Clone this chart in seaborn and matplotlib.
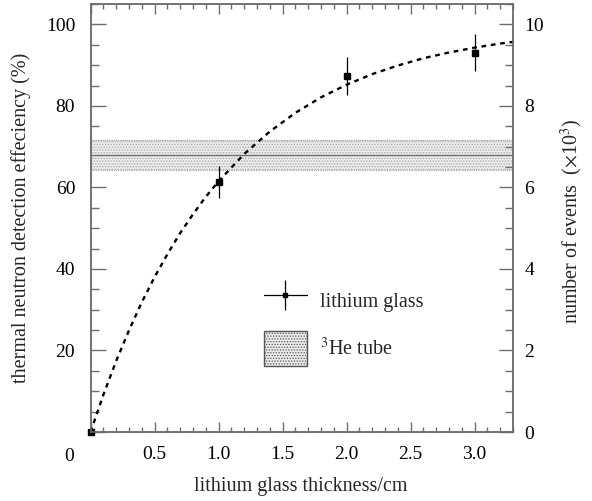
import numpy as np
import pandas as pd
import matplotlib
matplotlib.use("Agg")
import matplotlib.pyplot as plt
import seaborn as sns
from matplotlib.lines import Line2D
from matplotlib.patches import Patch
from matplotlib.ticker import MultipleLocator, FixedLocator

# ---------------- data ----------------
thickness = [0.0, 1.0, 2.0, 3.0]
efficiency = [0.0, 61.3, 87.4, 93.1]
eff_err = [0.0, 4.0, 4.6, 4.6]

fit_x = [0.0, 0.1, 0.2, 0.3, 0.4, 0.5, 0.6, 0.7, 0.8, 0.9, 1.0, 1.2, 1.4,
         1.6, 1.8, 2.0, 2.2, 2.4, 2.6, 2.8, 3.0, 3.2, 3.3]
fit_y = [0.0, 9.1, 17.4, 24.9, 31.8, 38.0, 43.6, 48.8, 53.4, 57.7, 61.5,
         68.2, 73.7, 78.3, 82.1, 85.2, 87.8, 89.9, 91.7, 93.1, 94.3, 95.3, 95.7]

he3_center = 67.9
he3_low = 64.2
he3_high = 71.7

x_tick_vals = [0.5, 1.0, 1.5, 2.0, 2.5, 3.0]
x_tick_labels = ["0.5", "1.0", "1.5", "2.0", "2.5", "3.0"]
y_tick_vals = [20, 40, 60, 80, 100]
y2_tick_vals = [0, 2, 4, 6, 8, 10]

# ---------------- style ----------------
sns.set_theme(style="white")
plt.rcParams["font.family"] = ["Liberation Serif", "DejaVu Serif"]
plt.rcParams["mathtext.fontset"] = "stix"
plt.rcParams["hatch.linewidth"] = 0.6

spine_col = "#6e6e6e"
fs = 14
lfs = 14.5

fig = plt.figure(figsize=(5.92, 5.01), dpi=100)
ax = fig.add_axes([0.1529, 0.1377, 0.8666 - 0.1529, 0.992 - 0.1377])

# He-3 band
ax.axhspan(he3_low, he3_high, facecolor="#ebebeb", edgecolor="#a8a8a8",
           hatch="......", linewidth=0, zorder=1)
ax.axhline(he3_low, color="#a0a0a0", lw=0.8, ls=(0, (1, 1)), zorder=1.5)
ax.axhline(he3_high, color="#a0a0a0", lw=0.8, ls=(0, (1, 1)), zorder=1.5)
ax.axhline(he3_center, color="#707070", lw=1.0, zorder=1.6)

# fit curve
fit_df = pd.DataFrame({"x": fit_x, "y": fit_y})
sns.lineplot(data=fit_df, x="x", y="y", ax=ax, color="black", lw=1.7,
             linestyle=(0, (2.0, 2.0)), zorder=3)

# data points
ax.errorbar(thickness, efficiency, yerr=eff_err, fmt="s", color="black",
            ms=5, elinewidth=0.9, capsize=0, zorder=4, clip_on=False)

ax.set_xlim(0, 3.3)
ax.set_ylim(0, 105)

for s in ax.spines.values():
    s.set_color(spine_col)
    s.set_linewidth(1.1)

ax.xaxis.set_major_locator(FixedLocator([0] + x_tick_vals))
ax.set_xticklabels([""] + x_tick_labels)
ax.xaxis.set_minor_locator(MultipleLocator(0.1))
ax.yaxis.set_major_locator(FixedLocator([0] + y_tick_vals))
ax.set_yticklabels([""] + [str(v) for v in y_tick_vals])
ax.yaxis.set_minor_locator(MultipleLocator(5))

ax.tick_params(axis="x", which="major", direction="in", top=True, bottom=True,
               length=7.5, width=1.0, color=spine_col, labelsize=fs, pad=10,
               labelcolor="black")
ax.tick_params(axis="x", which="minor", direction="in", top=True, bottom=True,
               length=3.5, width=1.0, color=spine_col)
ax.tick_params(axis="y", which="major", direction="in", left=True, right=False,
               length=11, width=1.0, color=spine_col, labelsize=fs, pad=11,
               labelcolor="black")
ax.tick_params(axis="y", which="minor", direction="in", left=True, right=False,
               length=5.5, width=1.0, color=spine_col)

ax.annotate("0", xy=(0, 0), xytext=(-21.5, -24), textcoords="offset pixels",
            ha="center", va="center", fontsize=fs, color="black")

ax.set_xlabel("")
ax.set_ylabel("")
fig.text(301 / 592, 1 - 487 / 501,
         "lithium glass thickness/cm", ha="center", va="center", fontsize=lfs)
fig.text(21 / 592, 1 - 218 / 501, "thermal neutron detection effeciency (%)",
         rotation=90, ha="center", va="center", fontsize=lfs)
fig.text(572 / 592, 1 - 221 / 501, r"number of events  ($\times$10$^{3}$)",
         rotation=90, ha="center", va="center", fontsize=lfs)

# right axis
ax2 = ax.twinx()
ax2.set_ylim(0, 10.5)
ax2.yaxis.set_major_locator(FixedLocator(y2_tick_vals))
ax2.set_yticklabels([str(v) for v in y2_tick_vals])
ax2.yaxis.set_minor_locator(MultipleLocator(0.5))
ax2.tick_params(axis="y", which="major", direction="in", length=10, width=1.0,
                color=spine_col, labelsize=fs, pad=8, labelcolor="black")
ax2.tick_params(axis="y", which="minor", direction="in", length=5.5, width=1.0,
                color=spine_col)
for s in ax2.spines.values():
    s.set_color(spine_col)
    s.set_linewidth(1.1)
ax2.grid(False)
ax.grid(False)

# legend
h_line = Line2D([], [], color="black", lw=0.9, marker="s", ms=3)
h_vert = Line2D([], [], color="black", ls="none", marker="|", ms=22, mew=0.9)
h_patch = Patch(facecolor="#ebebeb", edgecolor="#555555", hatch="......",
                linewidth=1.0)
leg = ax.legend([(h_line, h_vert), h_patch], ["lithium glass", r"$^{3}$He tube"],
                loc="upper left", bbox_to_anchor=(0.386, 0.372), frameon=False,
                fontsize=lfs, handlelength=2.15, handleheight=2.35,
                labelspacing=0.6, handletextpad=0.65, borderpad=0)

fig.savefig("out.png", dpi=100)
